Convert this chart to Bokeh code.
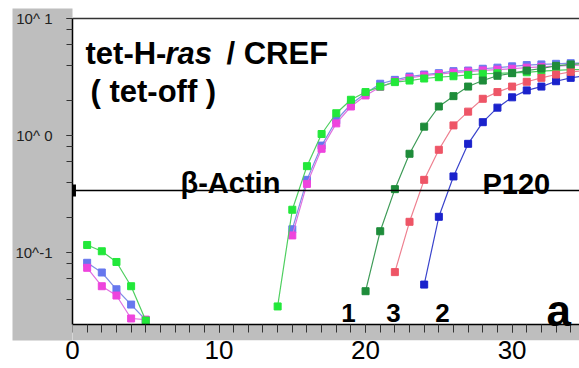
from bokeh.plotting import figure
from bokeh.models import (Span, Label, BoxAnnotation, SingleIntervalTicker, LogTicker,
                          Range1d, LinearAxis, CustomJSTickFormatter)
from bokeh.embed import file_html
from bokeh.resources import INLINE

# ---------------- data ----------------
early_cycles = [1, 2, 3, 4, 5]
green_early = [0.116, 0.1025, 0.083, 0.0515, 0.0262]
perw_early = [0.0817, 0.0675, 0.0485, 0.0359, 0.0265]
mag_early = [0.074, 0.0515, 0.0429, 0.0273, 0.0267]

green_cycles = list(range(14, 36))
green_vals = [0.0346, 0.232, 0.547, 1.03, 1.55, 2.02, 2.35, 2.62, 2.86, 2.95, 3.07,
              3.15, 3.21, 3.30, 3.37, 3.40, 3.43, 3.47, 3.55, 3.60, 3.65, 3.68]

perw_cycles = list(range(15, 36))
perw_vals = [0.158, 0.418, 0.82, 1.35, 1.85, 2.3, 2.77, 2.99, 3.19, 3.32, 3.41,
             3.55, 3.59, 3.72, 3.8, 3.9, 4.0, 4.05, 4.1, 4.15, 4.18]

mag_cycles = list(range(15, 36))
mag_vals = [0.14, 0.386, 0.77, 1.27, 1.77, 2.2, 2.6, 2.9, 3.1, 3.25, 3.35,
            3.45, 3.52, 3.6, 3.66, 3.72, 3.8, 3.86, 3.92, 3.97, 4.0]

p120_1_cycles = list(range(20, 36))
p120_1_vals = [0.0467, 0.152, 0.348, 0.698, 1.19, 1.77, 2.17, 2.62, 2.95, 3.24,
               3.41, 3.59, 3.74, 3.94, 4.05, 4.12]

p120_3_cycles = list(range(22, 36))
p120_3_vals = [0.068, 0.183, 0.418, 0.755, 1.22, 1.60, 2.06, 2.35, 2.62, 2.88,
               3.11, 3.32, 3.50, 3.6]

p120_2_cycles = list(range(24, 36))
p120_2_vals = [0.0532, 0.202, 0.447, 0.849, 1.30, 1.73, 2.12, 2.43, 2.62, 2.91,
               3.11, 3.25]

threshold = 0.339
y_tick_text = ["10^-1", "10^ 0", "10^ 1"]

# ---------------- figure ----------------
X0, X1 = 0, 34.6
YLO, YHI = 10 ** -1.752, 10 ** 1.0855
YAX = 10 ** -1.615

p = figure(width=567, height=368, output_backend="svg", toolbar_location=None,
           y_axis_type="log", x_range=Range1d(X0, X1), y_range=Range1d(YLO, YHI),
           x_axis_location=None,
           min_border_top=8, min_border_left=60, min_border_right=0, min_border_bottom=28)
p.margin = (0, 0, 0, 12)
p.outline_line_color = None
p.background_fill_color = "white"
p.border_fill_color = "white"
p.xgrid.visible = False
p.ygrid.visible = False

GRAY = "#bebebe"
FONT = "Liberation Sans"

# bottom gray strip (inside frame, below axis)
p.add_layout(BoxAnnotation(top=YAX, fill_color=GRAY, fill_alpha=1, line_color=None, level="underlay"))

# y axis
ya = p.yaxis[0]
ya.ticker = LogTicker()
ya.bounds = (YAX, 10)
ya.formatter = CustomJSTickFormatter(args=dict(names=y_tick_text), code="""
    const e = Math.round(Math.log10(tick));
    const i = e + 1;
    return (i >= 0 && i < names.length) ? names[i] : "";
""")
ya.major_label_text_font = FONT
ya.major_label_text_font_size = "15px"
ya.major_label_text_color = "#222222"
ya.major_label_standoff = 14
ya.major_tick_out = 6
ya.major_tick_in = 0
ya.minor_tick_out = 6
ya.minor_tick_in = 0
ya.major_tick_line_color = "#333333"
ya.minor_tick_line_color = "#333333"
ya.axis_line_color = "black"
ya.axis_line_width = 1.5
ya.background_fill_color = GRAY

# x axis: labels at the frame bottom
xlab = LinearAxis(ticker=SingleIntervalTicker(interval=10, num_minor_ticks=10))
xlab.major_label_text_font = FONT
xlab.major_label_text_font_size = "26px"
xlab.major_label_text_color = "black"
xlab.major_label_standoff = 0
xlab.major_tick_out = 0
xlab.major_tick_in = 0
xlab.minor_tick_out = 0
xlab.minor_tick_in = 0
xlab.axis_line_color = None
xlab.major_tick_line_color = None
xlab.minor_tick_line_color = None
p.add_layout(xlab, "below")

# x axis: ticks and line at the axis position
xa = LinearAxis(ticker=SingleIntervalTicker(interval=10, num_minor_ticks=10))
xa.fixed_location = YAX
xa.major_label_text_font_size = "0px"
xa.major_label_text_color = None
xa.major_label_standoff = 0
xa.major_tick_out = 8
xa.major_tick_in = 0
xa.minor_tick_out = 8
xa.minor_tick_in = 0
xa.major_tick_line_color = "#333333"
xa.minor_tick_line_color = "#333333"
xa.axis_line_color = "black"
xa.axis_line_width = 1.5
p.add_layout(xa, "below")

# top border line and threshold
p.add_layout(Span(location=10, dimension="width", line_color="#333333", line_width=1.5))
p.add_layout(Span(location=threshold, dimension="width", line_color="black", line_width=1.5))
p.rect(x=[0.1], y=[threshold], width=4, height=12, width_units="screen",
       height_units="screen", fill_color="black", line_color=None)

def series(xs, ys, mcol, lcol):
    p.line(xs, ys, line_color=lcol, line_width=1.2)
    p.scatter(xs, ys, marker="square", size=7, fill_color=mcol, line_color=mcol)

series(early_cycles, perw_early, "#6677ee", "#7f8fe6")
series(early_cycles, mag_early, "#ee44dd", "#e070e0")
series(early_cycles, green_early, "#22e83a", "#4fcf60")
series(perw_cycles, perw_vals, "#6677ee", "#7f8fe6")
series(mag_cycles, mag_vals, "#ee44dd", "#e070e0")
series(green_cycles, green_vals, "#22e83a", "#4fcf60")
series(p120_2_cycles, p120_2_vals, "#1a22cc", "#3a44cc")
series(p120_3_cycles, p120_3_vals, "#ee5566", "#ee8090")
series(p120_1_cycles, p120_1_vals, "#1e8c3a", "#3f9c58")

# ---------------- text ----------------
def dx(px):
    return X0 + (px - 72) * (X1 - X0) / 507.0

def dy(py):
    return 10 ** (1 - (py - 18) / 117.0)

def lab(txt, px, py, size, style="bold", align="left"):
    p.add_layout(Label(x=dx(px), y=dy(py), text=txt, text_font=FONT,
                       text_font_size=size, text_font_style=style,
                       text_align=align, text_baseline="alphabetic", text_color="black"))

lab("tet-H-", 85, 53, "31px")
lab("ras", 165, 53, "31px", "bold italic")
lab("/ CREF", 226, 53, "31px")
lab("( tet-off )", 90, 91, "31px")
lab("\u03b2-Actin", 180, 182, "29px")
lab("P120", 482, 183, "29px")
lab("1", 348, 312, "26px", align="center")
lab("3", 393, 312, "26px", align="center")
lab("2", 442, 312, "26px", align="center")
lab("a", 546, 310, "44px")

open("out.html", "w").write(file_html(p, INLINE))
